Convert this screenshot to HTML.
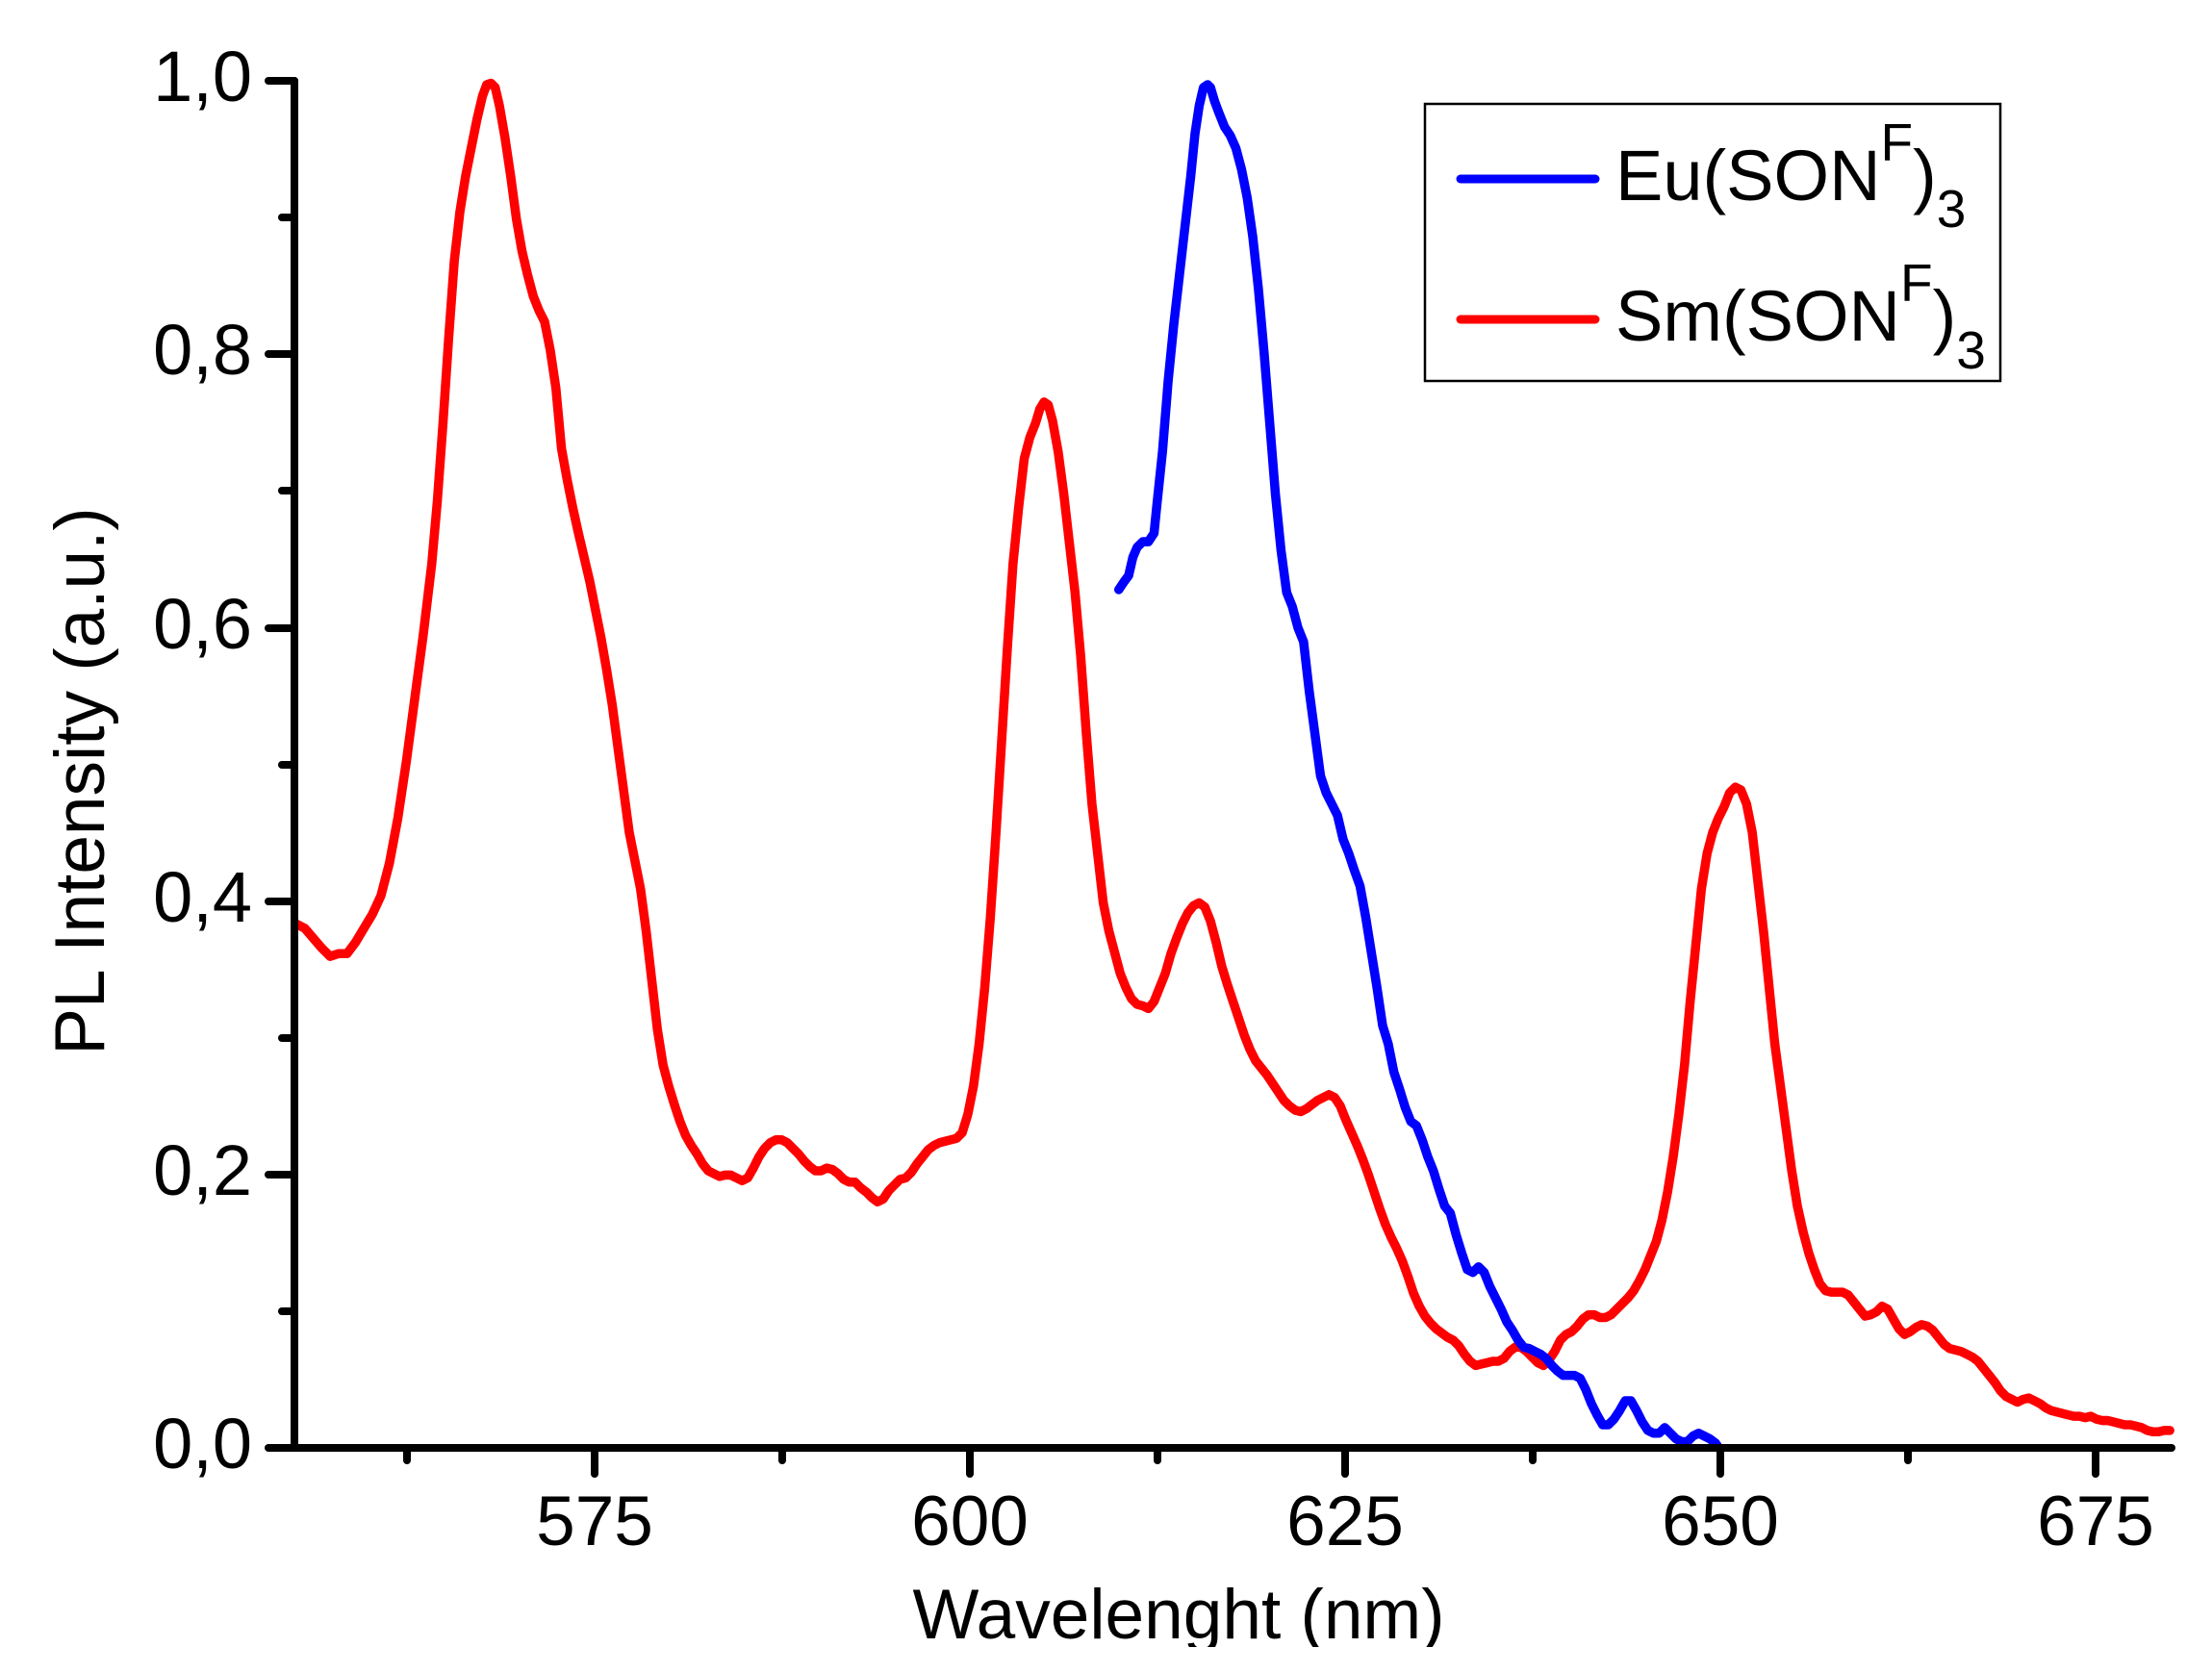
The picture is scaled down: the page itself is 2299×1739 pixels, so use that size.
<!DOCTYPE html>
<html><head><meta charset="utf-8"><style>html,body{margin:0;padding:0;background:#fff}svg{display:block}</style></head>
<body>
<svg width="2299" height="1739" viewBox="0 0 2299 1739" xmlns="http://www.w3.org/2000/svg" font-family="'Liberation Sans', Arial, sans-serif">
<rect width="2299" height="1739" fill="#fff"/>
<g transform="scale(1.4663)" fill="none" stroke-width="6.5" stroke-linejoin="round" stroke-linecap="round">
<polyline stroke="#ff0000" points="210,655 216,658 222,665 228,672 234,678 240,676 246,676 252,668 258,658 264,648 270,635 276,612 282,580 288,540 294,495 300,450 306,400 310,355 314,300 318,240 322,185 326,150 330,125 334,105 338,85 342,68 345,60 348,59 351,62 354,75 358,98 362,125 366,155 370,178 374,195 378,210 382,220 386,228 390,248 394,275 398,318 402,340 406,360 410,378 414,395 418,412 422,432 426,452 430,475 434,500 438,530 442,560 446,590 450,610 454,630 458,660 462,695 466,730 470,755 474,770 478,783 482,795 486,805 490,812 494,818 498,825 502,830 506,832 510,834 514,833 518,833 522,835 526,837 530,835 534,828 538,820 542,814 546,810 550,808 554,808 558,810 562,814 566,818 570,823 574,827 578,830 582,830 586,828 590,829 594,832 598,836 602,838 606,838 610,842 614,845 618,849 622,852 626,850 630,844 634,840 638,836 642,835 646,831 650,825 654,820 658,815 662,812 666,810 670,809 674,808 678,807 682,803 686,790 690,770 694,740 698,700 702,650 706,590 710,525 714,460 718,400 722,360 726,325 730,310 734,300 737,290 740,285 743,287 746,298 750,320 754,350 758,385 762,420 766,465 770,520 774,570 778,605 782,640 786,660 790,675 794,690 798,700 802,708 806,712 810,713 814,715 818,710 822,700 826,690 830,676 834,665 838,655 842,647 846,642 850,640 854,643 858,653 862,668 866,685 870,698 874,710 878,722 882,734 886,744 890,752 894,757 898,762 902,768 906,774 910,780 914,784 918,787 922,788 926,786 930,783 934,780 938,778 942,776 946,778 950,784 954,794 958,803 962,812 966,822 970,833 974,845 978,857 982,868 986,877 990,885 994,894 998,905 1002,917 1006,926 1010,933 1014,938 1018,942 1022,945 1026,948 1030,950 1034,954 1038,960 1042,965 1046,968 1050,967 1054,966 1058,965 1062,965 1066,963 1070,958 1074,955 1078,955 1082,958 1086,962 1090,966 1094,968 1098,964 1102,958 1106,950 1110,946 1114,944 1118,940 1122,935 1126,932 1130,932 1134,934 1138,934 1142,932 1146,928 1150,924 1154,920 1158,915 1162,908 1166,900 1170,890 1174,880 1178,865 1182,845 1186,820 1190,790 1194,755 1198,710 1202,670 1206,630 1210,605 1214,590 1218,580 1222,572 1226,562 1230,558 1234,560 1238,570 1242,590 1246,625 1250,660 1254,700 1258,740 1262,770 1266,800 1270,830 1274,855 1278,873 1282,888 1286,900 1290,910 1294,915 1298,916 1302,916 1306,916 1310,918 1314,923 1318,928 1322,933 1326,932 1330,930 1334,926 1338,928 1342,935 1346,942 1350,946 1354,944 1358,941 1362,939 1366,940 1370,943 1374,948 1378,953 1382,956 1386,957 1390,958 1394,960 1398,962 1402,965 1406,970 1410,975 1414,980 1418,986 1422,990 1426,992 1430,994 1434,992 1438,991 1442,993 1446,995 1450,998 1454,1000 1458,1001 1462,1002 1466,1003 1470,1004 1474,1004 1478,1005 1482,1004 1486,1006 1490,1007 1494,1007 1498,1008 1502,1009 1506,1010 1510,1010 1514,1011 1518,1012 1522,1014 1526,1015 1530,1015 1534,1014 1538,1014"/>
<polyline stroke="#0000ff" points="793,418 797,412 800,408 803,395 806,388 810,384 814,384 818,378 820,358 824,320 828,270 832,230 836,195 840,160 844,125 847,95 850,75 853,62 856,60 858,62 861,72 864,80 868,90 872,96 876,105 880,120 884,140 888,168 892,205 896,250 900,300 904,350 908,390 912,420 916,430 920,445 924,455 928,490 932,520 936,550 940,562 944,570 948,578 952,595 956,605 960,617 964,628 968,650 972,675 976,700 980,727 984,740 988,760 992,772 996,785 1000,795 1004,798 1008,808 1012,820 1016,830 1020,843 1024,855 1028,860 1032,875 1036,888 1040,900 1044,902 1048,898 1052,902 1056,912 1060,920 1064,928 1068,937 1072,943 1076,950 1080,955 1084,956 1088,958 1092,960 1096,963 1100,968 1104,972 1108,975 1112,975 1116,975 1120,977 1124,985 1128,995 1132,1003 1136,1010 1140,1010 1144,1006 1148,1000 1152,993 1156,993 1160,1000 1164,1008 1168,1014 1172,1016 1176,1016 1180,1012 1184,1016 1188,1020 1192,1022 1196,1022 1200,1018 1204,1016 1208,1018 1212,1020 1216,1023 1218,1026"/>
</g>
<g stroke="#000" stroke-width="8" stroke-linecap="round" fill="none">
<line x1="306" y1="84" x2="306" y2="1505"/>
<line x1="279" y1="1505" x2="2257" y2="1505"/>
<line x1="279" y1="84" x2="306" y2="84"/>
<line x1="279" y1="368" x2="306" y2="368"/>
<line x1="279" y1="653" x2="306" y2="653"/>
<line x1="279" y1="937" x2="306" y2="937"/>
<line x1="279" y1="1221" x2="306" y2="1221"/>
<line x1="293" y1="226" x2="306" y2="226"/>
<line x1="293" y1="510" x2="306" y2="510"/>
<line x1="293" y1="795" x2="306" y2="795"/>
<line x1="293" y1="1079" x2="306" y2="1079"/>
<line x1="293" y1="1363" x2="306" y2="1363"/>
<line x1="618" y1="1505" x2="618" y2="1532"/>
<line x1="1008" y1="1505" x2="1008" y2="1532"/>
<line x1="1398" y1="1505" x2="1398" y2="1532"/>
<line x1="1788" y1="1505" x2="1788" y2="1532"/>
<line x1="2178" y1="1505" x2="2178" y2="1532"/>
<line x1="423" y1="1505" x2="423" y2="1518"/>
<line x1="813" y1="1505" x2="813" y2="1518"/>
<line x1="1203" y1="1505" x2="1203" y2="1518"/>
<line x1="1593" y1="1505" x2="1593" y2="1518"/>
<line x1="1983" y1="1505" x2="1983" y2="1518"/>
</g>
<g font-size="74" fill="#000" text-anchor="end">
<text x="262" y="105">1,0</text>
<text x="262" y="389">0,8</text>
<text x="262" y="674">0,6</text>
<text x="262" y="958">0,4</text>
<text x="262" y="1242">0,2</text>
<text x="262" y="1526">0,0</text>
</g>
<g font-size="73" fill="#000" text-anchor="middle">
<text x="618" y="1606">575</text>
<text x="1008" y="1606">600</text>
<text x="1398" y="1606">625</text>
<text x="1788" y="1606">650</text>
<text x="2178" y="1606">675</text>
<text x="1225" y="1703">Wavelenght (nm)</text>
<text transform="translate(108,812) rotate(-90)">PL Intensity (a.u.)</text>
</g>
<rect x="0" y="1712" width="2299" height="27" fill="#fff"/>
<rect x="1481" y="108" width="598" height="288" fill="none" stroke="#000" stroke-width="2.5"/>
<line x1="1518" y1="186" x2="1658" y2="186" stroke="#0000ff" stroke-width="9" stroke-linecap="round"/>
<line x1="1518" y1="332" x2="1658" y2="332" stroke="#ff0000" stroke-width="9" stroke-linecap="round"/>
<g fill="#000">
<text x="1679" y="208" font-size="74">Eu(SON<tspan font-size="55" dy="-41">F</tspan><tspan font-size="74" dy="41">)</tspan><tspan font-size="55" dy="28">3</tspan></text>
<text x="1679" y="354" font-size="74">Sm(SON<tspan font-size="55" dy="-41">F</tspan><tspan font-size="74" dy="41">)</tspan><tspan font-size="55" dy="29">3</tspan></text>
</g>
</svg>
</body></html>
